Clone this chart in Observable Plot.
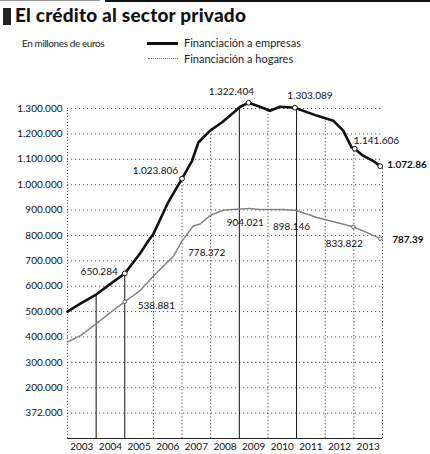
<!DOCTYPE html>
<html><head><meta charset="utf-8">
<script src="https://cdn.jsdelivr.net/npm/d3@7"></script>
<script src="https://cdn.jsdelivr.net/npm/@observablehq/plot@0.6"></script>
<style>
body{margin:0;background:#fff;width:430px;height:454px;overflow:hidden;font-family:Lato,"Open Sans",sans-serif;color:#111}
#head{position:relative;height:72px}
#head div{position:absolute}
.lg{font-size:11px;letter-spacing:0px;color:#222;white-space:nowrap}
</style></head>
<body>
<div id="head">
  <div style="left:0;top:0;width:100px;height:1px;background:#999"></div>
  <div style="left:105px;top:0;width:325px;height:2px;background:#111"></div>
  <div style="left:3px;top:8px;width:8px;height:17px;background:#222"></div>
  <div id="title" style="left:15px;top:3px;font-size:19px;font-weight:900;letter-spacing:0.2px;white-space:nowrap">El crédito al sector privado</div>
  <div class="lg" style="left:22px;top:37px;font-size:10px;letter-spacing:-0.4px">En millones de euros</div>
  <div style="left:147px;top:42px;width:31px;height:3px;background:#111"></div>
  <div class="lg" style="left:184px;top:36px">Financiación a empresas</div>
  <div style="left:148px;top:58px;width:30px;height:0;border-top:1.5px dotted #777"></div>
  <div class="lg" style="left:184px;top:52px">Financiación a hogares</div>
</div>
<div id="chart"></div>
<script>
// Empresas series (millones de euros)
const empresasYear = [2003.0, 2003.45, 2004.0, 2004.5, 2005.0, 2005.54, 2005.83, 2006.0, 2006.5, 2007.0, 2007.35, 2007.57, 2007.98, 2008.39, 2008.74, 2009.03, 2009.32, 2009.72, 2010.07, 2010.42, 2010.94, 2011.7, 2012.28, 2012.63, 2012.92, 2013.03, 2013.32, 2013.67, 2013.92];
const empresasValue = [500000, 531000, 567000, 609000, 650284, 730000, 780000, 806000, 927000, 1023806, 1094000, 1166000, 1213000, 1245000, 1278000, 1307000, 1322404, 1307000, 1291000, 1307000, 1303089, 1272000, 1252000, 1213000, 1147000, 1141606, 1114000, 1094000, 1072860];
// Hogares series
const hogaresYear = [2003.0, 2003.45, 2004.0, 2004.5, 2005.0, 2005.54, 2006.0, 2006.7, 2007.0, 2007.4, 2007.63, 2007.98, 2008.45, 2009.0, 2009.38, 2009.72, 2010.54, 2011.0, 2011.7, 2012.4, 2012.98, 2013.44, 2013.92];
const hogaresValue = [380000, 405000, 452000, 497000, 538881, 583000, 640000, 718000, 778372, 838000, 845000, 878000, 900000, 904021, 906000, 902000, 902000, 898146, 871000, 851000, 833822, 812000, 787390];
// Annotations
const annotSeries = ["e","h","e","h","e","h","e","h","e","h","e","h"];
const annotYear   = [2005.0, 2005.0, 2007.0, 2007.0, 2009.32, 2009.0, 2010.94, 2011.0, 2013.03, 2012.98, 2013.92, 2013.92];
const annotValue  = [650284, 538881, 1023806, 778372, 1322404, 904021, 1303089, 898146, 1141606, 833822, 1072860, 787390];
const annotLabel  = ["650.284","538.881","1.023.806","778.372","1.322.404","904.021","1.303.089","898.146","1.141.606","833.822","1.072.86","787.39"];
// Axes
const yTickValues = [100000,200000,300000,400000,500000,600000,700000,800000,900000,1000000,1100000,1200000,1300000];
const yTickLabels = ["372.000","200.000","300.000","400.000","500.000","600.000","700.000","800.000","900.000","1.000.000","1.100.000","1.200.000","1.300.000"];
const xYears = [2003,2004,2005,2006,2007,2008,2009,2010,2011,2012,2013];
const xYearLabels = ["2003","2004","2005","2006","2007","2008","2009","2010","2011","2012","2013"];
const solidDropYears = [2004, 2005, 2009, 2011];
const dottedDropYears = [2006, 2007, 2008, 2010, 2012, 2013, 2014];

const empresas = empresasYear.map((y,i)=>({year:y, value:empresasValue[i]}));
const hogares = hogaresYear.map((y,i)=>({year:y, value:hogaresValue[i]}));
const annots = annotLabel.map((l,i)=>({label:l, series:annotSeries[i], year:annotYear[i], value:annotValue[i]}));

function empAt(yr){
  if (yr <= empresasYear[0]) return empresasValue[0];
  for (let i=1;i<empresasYear.length;i++){
    if (yr <= empresasYear[i]){
      const t=(yr-empresasYear[i-1])/(empresasYear[i]-empresasYear[i-1]);
      return empresasValue[i-1]+t*(empresasValue[i]-empresasValue[i-1]);
    }
  }
  return empresasValue[empresasValue.length-1];
}
const solidDrops = solidDropYears.map(y=>({year:y, top:empAt(y)}));
const dottedDrops = dottedDropYears.map(y=>({year:y, top:empAt(y)}));

const place = {
  "650.284":{dx:-7,dy:-2,a:"end"},
  "538.881":{dx:13,dy:4,a:"start"},
  "1.023.806":{dx:-4,dy:-8,a:"end"},
  "778.372":{dx:6,dy:12,a:"start"},
  "1.322.404":{dx:-17,dy:-11,a:"middle"},
  "904.021":{dx:6,dy:14,a:"middle"},
  "1.303.089":{dx:15,dy:-12,a:"middle"},
  "898.146":{dx:-5,dy:16,a:"middle"},
  "1.141.606":{dx:-1,dy:-8,a:"start"},
  "833.822":{dx:-9,dy:17,a:"middle"},
  "1.072.86":{dx:7,dy:-1,a:"start",b:true},
  "787.39":{dx:12,dy:1,a:"start",b:true}
};

const textMarks = annots.map(a => Plot.text([a], {
  x:"year", y:"value", text:"label",
  dx:place[a.label].dx, dy:place[a.label].dy, textAnchor:place[a.label].a,
  fontSize:10, fontWeight: place[a.label].b ? "bold" : "normal", fill:"#111"
}));

const chart = Plot.plot({
  width:430, height:382,
  marginLeft:67, marginRight:48, marginTop:36, marginBottom:16,
  style:{fontFamily:"Lato, sans-serif", fontSize:"10px", color:"#111", background:"#fff", overflow:"visible"},
  x:{domain:[2003,2014], axis:null},
  y:{domain:[0,1300000], axis:null},
  marks:[
    Plot.ruleY(yTickValues, {y:d=>d, x1:2003, x2:2014, stroke:"#333", strokeWidth:0.8, strokeDasharray:"1.2,2.8"}),
    Plot.ruleX([2003], {x:d=>d, y1:0, y2:1300000, stroke:"#333", strokeWidth:0.8, strokeDasharray:"1.2,1.8"}),
    Plot.ruleX(dottedDrops, {x:"year", y1:0, y2:"top", stroke:"#333", strokeWidth:0.9, strokeDasharray:"1.2,2.2"}),
    Plot.ruleX(solidDrops, {x:"year", y1:0, y2:"top", stroke:"#111", strokeWidth:1}),
    Plot.ruleY([0], {x1:2003, x2:2014, stroke:"#222", strokeWidth:1}),
    Plot.line(hogares, {x:"year", y:"value", stroke:"#808080", strokeWidth:1.5, strokeDasharray:"2,1", curve:"linear"}),
    Plot.line(empresas, {x:"year", y:"value", stroke:"#111", strokeWidth:2.6, curve:"linear", strokeLinejoin:"round"}),
    Plot.dot(annots.filter(a=>a.series==="e"), {x:"year", y:"value", r:2.4, fill:"white", stroke:"#111", strokeWidth:1}),
    Plot.dot(annots.filter(a=>a.series==="h" && (a.label==="787.39"||a.label==="538.881"||a.label==="833.822")), {x:"year", y:"value", r:1.8, fill:"white", stroke:"#555", strokeWidth:0.9}),
    ...textMarks,
    Plot.axisY(yTickValues, {tickSize:0, tickPadding:5, fontSize:10, label:null,
      tickFormat:d=>yTickLabels[yTickValues.indexOf(d)]}),
    Plot.axisX(xYears.map(y=>y+0.5), {tickSize:0, tickPadding:4, fontSize:10, label:null,
      tickFormat:d=>xYearLabels[xYears.indexOf(d-0.5)]})
  ]
});
document.getElementById("chart").appendChild(chart);
</script>
</body></html>
